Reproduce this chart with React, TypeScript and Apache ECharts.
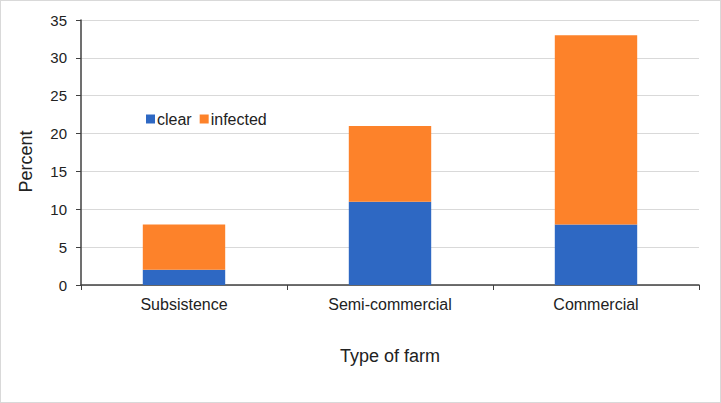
import React, { useEffect, useRef } from "react";
import * as echarts from "echarts";

const categories = ["Subsistence", "Semi-commercial", "Commercial"];
const clearValues = [2, 11, 8];
const infectedValues = [6, 10, 25];
const yTicks = { min: 0, max: 35, interval: 5 };

export default function App() {
  const ref = useRef<HTMLDivElement>(null);
  useEffect(() => {
    document.body.style.margin = "0";
    if (!ref.current) return;
    const chart = echarts.init(ref.current, null, { renderer: "svg" });
    const font = "Liberation Sans, Arial, sans-serif";
    chart.setOption({
      animation: false,
      textStyle: { fontFamily: font },
      grid: { left: 80, right: 21, top: 19, bottom: 117 },
      legend: {
        left: 140,
        top: 105,
        icon: "rect",
        itemWidth: 9,
        itemHeight: 9,
        itemGap: 8,
        textStyle: { fontSize: 16, color: "#222", fontFamily: font, padding: [0, 0, 0, -3] },
        data: ["clear", "infected"],
      },
      xAxis: {
        type: "category",
        data: categories,
        name: "Type of farm",
        nameLocation: "middle",
        nameGap: 62,
        nameTextStyle: { fontSize: 18, color: "#222", fontFamily: font },
        axisLine: { lineStyle: { color: "#404040", width: 1.5 } },
        axisTick: { show: true, length: 5, lineStyle: { color: "#404040" } },
        axisLabel: { fontSize: 16, color: "#222", margin: 11, fontFamily: font },
      },
      yAxis: {
        type: "value",
        min: yTicks.min,
        max: yTicks.max,
        interval: yTicks.interval,
        name: "Percent",
        nameLocation: "middle",
        nameGap: 46,
        nameTextStyle: { fontSize: 18, color: "#222", fontFamily: font, padding: [0, 18, 0, 0] },
        axisLine: { show: true, lineStyle: { color: "#404040", width: 1.5 } },
        axisTick: { show: true, length: 5, lineStyle: { color: "#404040" } },
        axisLabel: { fontSize: 15, color: "#222", margin: 14, fontFamily: font },
        splitLine: { lineStyle: { color: "#d9d9d9" } },
      },
      series: [
        {
          name: "clear",
          type: "bar",
          stack: "total",
          data: clearValues,
          barWidth: "40%",
          itemStyle: { color: "#2E68C3" },
        },
        {
          name: "infected",
          type: "bar",
          stack: "total",
          data: infectedValues,
          barWidth: "40%",
          itemStyle: { color: "#FD822A" },
        },
      ],
    });
    return () => chart.dispose();
  }, []);
  return (
    <div
      ref={ref}
      style={{
        width: 721,
        height: 403,
        border: "1px solid #d9d9d9",
        boxSizing: "border-box",
      }}
    />
  );
}
